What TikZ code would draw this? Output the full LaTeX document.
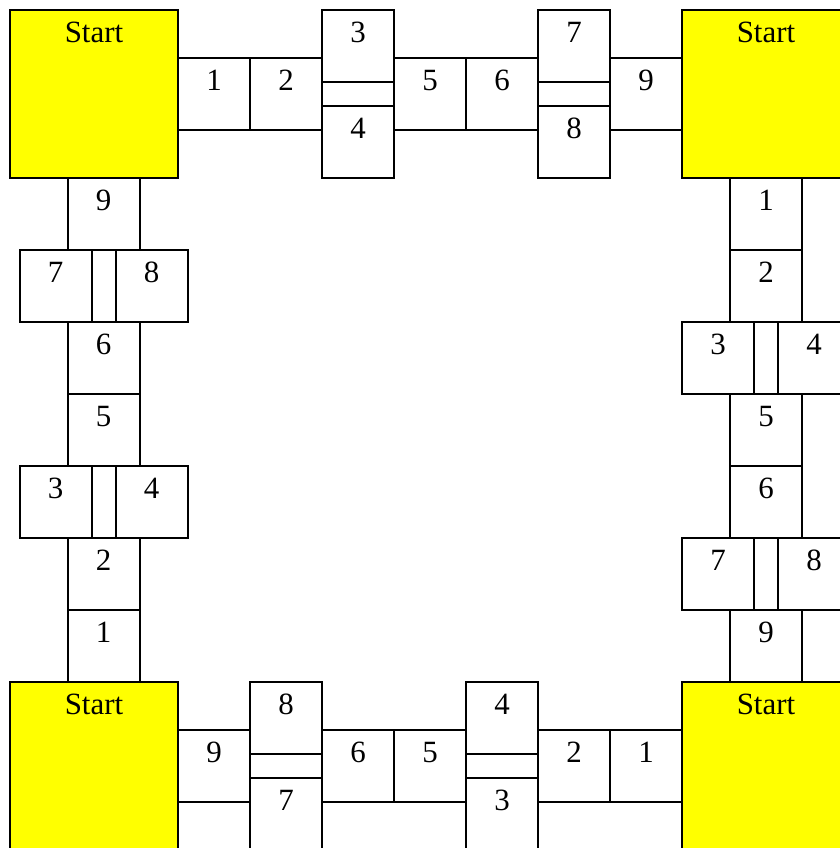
\documentclass[tikz,border=0pt]{standalone}
\usepackage{fontspec}
\setmainfont{Liberation Serif}
\definecolor{startyellow}{RGB}{255,255,0}

\begin{document}
\begin{tikzpicture}[
		x=0.6cm, y=-0.6cm,
		every node/.style={font=\fontsize{22}{26}\selectfont},
		cell/.style={
			draw, line width=1.4pt, rectangle,
			anchor=north west, inner sep=0pt, outer sep=0pt,
			minimum width=1.8cm,
			text height=0.82cm, text depth=0.98cm
		},
		startbox/.style={cell, fill=startyellow, minimum width=4.2cm, text depth=3.38cm},
		gap/.style={draw, line width=1.4pt}
		]
		\useasboundingbox (-0.4167,-0.4167) rectangle (34.583,34.917);
		
		\node[startbox] (tlStart) at (0,0) {Start};
		\node[startbox] (trStart) at (28,0) {Start};
		\node[startbox] (blStart) at (0,28) {Start};
		\node[startbox] (brStart) at (28,28) {Start};
		
		% top row
		\node[cell] (top1) at (7,2) {1};
		\node[cell] (top2) at (10,2) {2};
		\node[cell] (top3) at (13,0) {3};
		\node[cell] (top4) at (13,4) {4};
		\node[cell] (top5) at (16,2) {5};
		\node[cell] (top6) at (19,2) {6};
		\node[cell] (top7) at (22,0) {7};
		\node[cell] (top8) at (22,4) {8};
		\node[cell] (top9) at (25,2) {9};
		\draw[gap] (top3.south west) rectangle (top4.north east);
		\draw[gap] (top7.south west) rectangle (top8.north east);
		
		% right column
		\node[cell] (right1) at (30,7) {1};
		\node[cell] (right2) at (30,10) {2};
		\node[cell] (right3) at (28,13) {3};
		\node[cell] (right4) at (32,13) {4};
		\node[cell] (right5) at (30,16) {5};
		\node[cell] (right6) at (30,19) {6};
		\node[cell] (right7) at (28,22) {7};
		\node[cell] (right8) at (32,22) {8};
		\node[cell] (right9) at (30,25) {9};
		\draw[gap] (right3.north east) rectangle (right4.south west);
		\draw[gap] (right7.north east) rectangle (right8.south west);
		
		% left column
		\node[cell] (left9) at (2.4,7) {9};
		\node[cell] (left7) at (0.4,10) {7};
		\node[cell] (left8) at (4.4,10) {8};
		\node[cell] (left6) at (2.4,13) {6};
		\node[cell] (left5) at (2.4,16) {5};
		\node[cell] (left3) at (0.4,19) {3};
		\node[cell] (left4) at (4.4,19) {4};
		\node[cell] (left2) at (2.4,22) {2};
		\node[cell] (left1) at (2.4,25) {1};
		\draw[gap] (left7.north east) rectangle (left8.south west);
		\draw[gap] (left3.north east) rectangle (left4.south west);
		
		% bottom row
		\node[cell] (bottom9) at (7,30) {9};
		\node[cell] (bottom8) at (10,28) {8};
		\node[cell] (bottom7) at (10,32) {7};
		\node[cell] (bottom6) at (13,30) {6};
		\node[cell] (bottom5) at (16,30) {5};
		\node[cell] (bottom4) at (19,28) {4};
		\node[cell] (bottom3) at (19,32) {3};
		\node[cell] (bottom2) at (22,30) {2};
		\node[cell] (bottom1) at (25,30) {1};
		\draw[gap] (bottom8.south west) rectangle (bottom7.north east);
		\draw[gap] (bottom4.south west) rectangle (bottom3.north east);
	\end{tikzpicture}
\end{document}
